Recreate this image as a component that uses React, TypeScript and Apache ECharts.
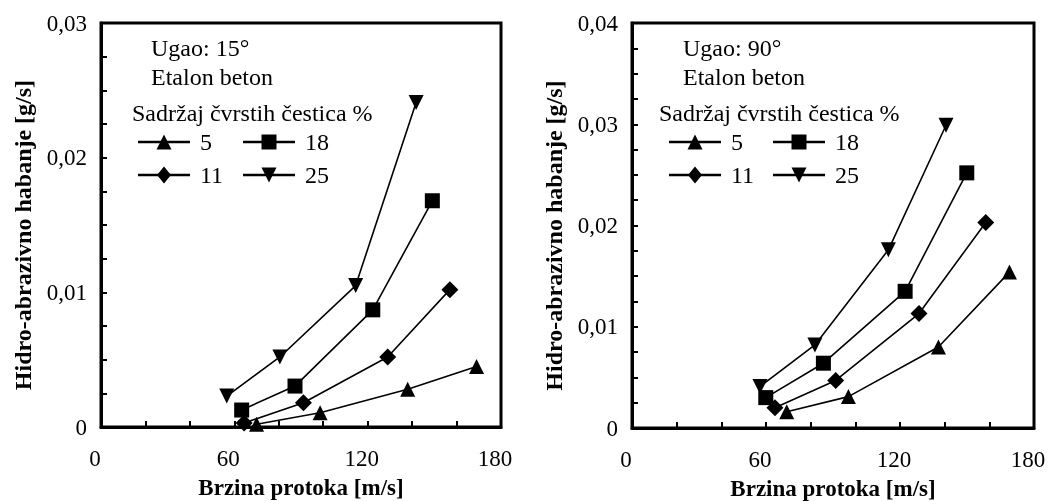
import React, { useEffect, useRef } from "react";
import * as echarts from "echarts";

// Brzina protoka [m/s] (x) and Hidro-abrazivno habanje [g/s] (y)
// Left chart: Ugao 15°
const L_X5 = [70, 98.6, 138, 169];
const L_Y5 = [0.0002, 0.00106, 0.0028, 0.0045];
const L_X11 = [64.4, 91.1, 129, 157];
const L_Y11 = [0.0003, 0.0018, 0.0052, 0.0102];
const L_X18 = [63.3, 87.3, 122.3, 149.1];
const L_Y18 = [0.00126, 0.00304, 0.0087, 0.0168];
const L_X25 = [56.6, 80.5, 114.6, 141.8];
const L_Y25 = [0.0023, 0.0052, 0.0105, 0.0241];

// Right chart: Ugao 90°
const R_X5 = [69.3, 96.9, 137.2, 169];
const R_Y5 = [0.0016, 0.0031, 0.008, 0.0154];
const R_X11 = [64, 91.2, 128.5, 158.4];
const R_Y11 = [0.002, 0.0047, 0.0113, 0.0203];
const R_X18 = [59.9, 85.7, 122.3, 149.9];
const R_Y18 = [0.003, 0.0064, 0.0135, 0.0252];
const R_X25 = [57.3, 81.9, 114.8, 140.6];
const R_Y25 = [0.0041, 0.0082, 0.0176, 0.0299];

const SERIES_NAMES = ["5", "11", "18", "25"];
const X_TITLE = "Brzina protoka [m/s]";
const Y_TITLE = "Hidro-abrazivno habanje [g/s]";
const LEFT_NOTE = ["Ugao: 15°", "Etalon beton"];
const RIGHT_NOTE = ["Ugao: 90°", "Etalon beton"];
const LEGEND_TITLE = "Sadržaj čvrstih čestica %";

const FONT = "Liberation Serif";

const zip = (xs: number[], ys: number[]) => xs.map((x, i) => [x, ys[i]]);

const SYMBOLS: Record<string, { symbol: string; size: number; rotate: number }> = {
  "5": { symbol: "triangle", size: 15, rotate: 0 },
  "11": { symbol: "diamond", size: 17, rotate: 0 },
  "18": { symbol: "rect", size: 15, rotate: 0 },
  "25": { symbol: "triangle", size: 15, rotate: 180 },
};

function makeSeries(name: string, data: number[][], idx: number) {
  const s = SYMBOLS[name];
  return {
    type: "line",
    name,
    xAxisIndex: idx,
    yAxisIndex: idx,
    data,
    symbol: s.symbol,
    symbolSize: s.size,
    symbolRotate: s.rotate,
    lineStyle: { color: "#000", width: 1.6 },
    itemStyle: { color: "#000" },
  };
}

function xAxisFor(idx: number) {
  return {
    type: "value",
    gridIndex: idx,
    min: 0,
    max: 180,
    interval: 60,
    name: X_TITLE,
    nameLocation: "middle",
    nameGap: 49,
    nameTextStyle: { fontFamily: FONT, fontSize: 23, fontWeight: "bold", color: "#000" },
    axisLine: { show: true, lineStyle: { color: "#000", width: 3 } },
    axisTick: { show: true, inside: true, length: 6, lineStyle: { color: "#000", width: 2 } },
    minorTick: { show: true, splitNumber: 3, length: 6, lineStyle: { color: "#000", width: 2 } },
    splitLine: { show: false },
    axisLabel: {
      fontFamily: FONT,
      fontSize: 23,
      color: "#000",
      margin: 20,
      padding: [0, 12, 0, 0],
    },
  };
}

function yAxisFor(idx: number, max: number) {
  return {
    type: "value",
    gridIndex: idx,
    min: 0,
    max,
    interval: 0.01,
    name: Y_TITLE,
    nameLocation: "middle",
    nameGap: 66,
    nameTextStyle: {
      fontFamily: FONT,
      fontSize: 24,
      fontWeight: "bold",
      color: "#000",
      padding: [0, 20, 0, 0],
    },
    axisLine: { show: true, lineStyle: { color: "#000", width: 3 } },
    axisTick: { show: true, inside: true, length: 6, lineStyle: { color: "#000", width: 2 } },
    minorTick: { show: true, splitNumber: 4, length: 6, lineStyle: { color: "#000", width: 2 } },
    splitLine: { show: false },
    axisLabel: {
      fontFamily: FONT,
      fontSize: 23,
      color: "#000",
      margin: 14,
      formatter: (v: number) => (v === 0 ? "0" : v.toFixed(2).replace(".", ",")),
    },
  };
}

// legend drawn as graphic: line + marker + label
function markerShape(name: string, cx: number, cy: number) {
  const fill = { fill: "#000" };
  if (name === "18") return { type: "rect", shape: { x: cx - 7.5, y: cy - 7.5, width: 15, height: 15 }, style: fill };
  if (name === "11")
    return { type: "polygon", shape: { points: [[cx, cy - 8.5], [cx + 7, cy], [cx, cy + 8.5], [cx - 7, cy]] }, style: fill };
  if (name === "5")
    return { type: "polygon", shape: { points: [[cx, cy - 7.5], [cx + 7.5, cy + 7.5], [cx - 7.5, cy + 7.5]] }, style: fill };
  return { type: "polygon", shape: { points: [[cx - 7.5, cy - 7.5], [cx + 7.5, cy - 7.5], [cx, cy + 7.5]] }, style: fill };
}

function legendItem(name: string, x: number, y: number) {
  return [
    { type: "line", shape: { x1: x, y1: y, x2: x + 52, y2: y }, style: { stroke: "#000", lineWidth: 2.6 } },
    markerShape(name, x + 26, y),
    { type: "text", x: x + 62, y, style: { text: name, fontFamily: FONT, fontSize: 24, fill: "#000", verticalAlign: "middle" } },
  ];
}

function notes(lines: string[], x: number, titleX: number, legX1: number, legX2: number) {
  const st = (text: string) => ({ text, fontFamily: FONT, fontSize: 24, fill: "#000", verticalAlign: "middle" });
  return [
    { type: "text", x, y: 48, style: st(lines[0]) },
    { type: "text", x, y: 77, style: st(lines[1]) },
    { type: "text", x: titleX, y: 113, style: st(LEGEND_TITLE) },
    ...legendItem("5", legX1, 142),
    ...legendItem("11", legX1, 175),
    ...legendItem("18", legX2, 142),
    ...legendItem("25", legX2, 175),
  ];
}

export default function App() {
  const ref = useRef<HTMLDivElement>(null);
  useEffect(() => {
    if (!ref.current) return;
    const chart = echarts.init(ref.current, null, { renderer: "svg" });
    const leftData: Record<string, number[][]> = {
      "5": zip(L_X5, L_Y5),
      "11": zip(L_X11, L_Y11),
      "18": zip(L_X18, L_Y18),
      "25": zip(L_X25, L_Y25),
    };
    const rightData: Record<string, number[][]> = {
      "5": zip(R_X5, R_Y5),
      "11": zip(R_X11, R_Y11),
      "18": zip(R_X18, R_Y18),
      "25": zip(R_X25, R_Y25),
    };
    chart.setOption({
      animation: false,
      grid: [
        {
          left: 101, top: 23, width: 400, height: 404,
          show: true, borderColor: "#000", borderWidth: 3,
          containLabel: false, outerBoundsMode: "none",
        },
        {
          left: 632, top: 23, width: 402, height: 405,
          show: true, borderColor: "#000", borderWidth: 3,
          containLabel: false, outerBoundsMode: "none",
        },
      ],
      xAxis: [xAxisFor(0), xAxisFor(1)],
      yAxis: [yAxisFor(0, 0.03), yAxisFor(1, 0.04)],
      graphic: [...notes(LEFT_NOTE, 151, 132, 138, 243), ...notes(RIGHT_NOTE, 683, 659, 669, 773)],
      series: [
        ...SERIES_NAMES.map((n) => makeSeries(n, leftData[n], 0)),
        ...SERIES_NAMES.map((n) => makeSeries(n, rightData[n], 1)),
      ],
    });
    return () => chart.dispose();
  }, []);
  return <div ref={ref} style={{ position: "fixed", left: 0, top: 0, width: 1048, height: 501 }} />;
}
